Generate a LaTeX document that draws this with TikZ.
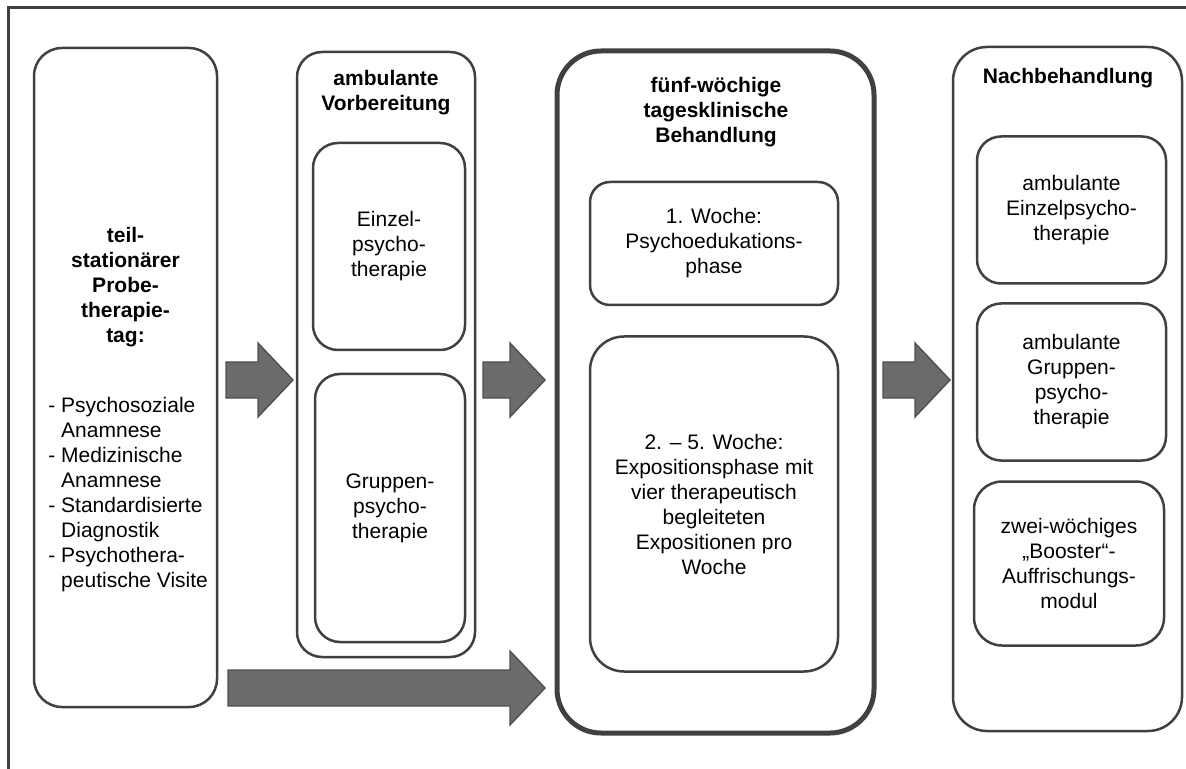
\documentclass[tikz,border=0pt]{standalone}
\usepackage{fontspec}
\setmainfont{Liberation Sans}
\usetikzlibrary{calc}
\definecolor{linegray}{HTML}{404040}
\definecolor{arrowfill}{HTML}{6B6B6B}
\definecolor{arrowedge}{HTML}{505050}
\newlength\px
\setlength\px{0.5pt}
\newcommand\boxfont{\fontsize{10.5pt}{12.5pt}\selectfont}
\newcommand\blockarrow[2]{%
  \filldraw[barr] ($(#1)+(0,-18)$) -- ($(#2)+(-35,-18)$) -- ($(#2)+(-35,-37)$) -- (#2)
    -- ($(#2)+(-35,37)$) -- ($(#2)+(-35,18)$) -- ($(#1)+(0,18)$) -- cycle;}

\begin{document}
\begin{tikzpicture}[
  x=0.5pt, y=-0.5pt,
  box/.style={draw=linegray, line width=1.25pt, rounded corners=13pt, inner sep=0pt, outer sep=0pt, align=center, font=\boxfont},
  bigbox/.style={box, line width=2.5pt, rounded corners=22pt},
  head/.style={font=\boxfont\bfseries, align=center, inner sep=0pt},
  barr/.style={fill=arrowfill, draw=arrowedge, line width=0.7pt}]
\useasboundingbox (0,0) rectangle (1186,769);
\draw[linegray, line width=1.5pt] (8,775) -- (8,7.5) -- (1190,7.5);

% Probetherapietag
\node[box, rounded corners=14pt, minimum width=183\px, minimum height=659\px] (probe) at (125.5,377.5) {};
\node[head] (probetitle) at (125.5,287) {teil-\\stationärer\\Probe-\\therapie-\\tag:};
\node[font=\boxfont, align=left, inner sep=0pt, anchor=west] (probelist) at (48,495)
  {- Psychosoziale\\\hphantom{-\ }Anamnese\\- Medizinische\\\hphantom{-\ }Anamnese\\- Standardisierte\\\hphantom{-\ }Diagnostik\\- Psychothera-\\\hphantom{-\ }peutische Visite};

% ambulante Vorbereitung
\node[box, rounded corners=12.5pt, minimum width=178\px, minimum height=605\px] (prep) at (386,354.5) {};
\node[head] (preptitle) at (386,92.5) {ambulante\\Vorbereitung};
\node[box, rounded corners=12.5pt, minimum width=152\px, minimum height=207\px] (einzel) at (389,246.5) {Einzel-\\psycho-\\therapie};
\node[box, rounded corners=12.5pt, minimum width=150\px, minimum height=268\px] (gruppe) at (390,508) {Gruppen-\\psycho-\\therapie};

% tagesklinische Behandlung
\node[bigbox, minimum width=317\px, minimum height=682\px] (tag) at (715.5,392) {};
\node[head] (tagtitle) at (716,112) {fünf-wöchige\\tagesklinische\\Behandlung};
\node[box, rounded corners=10pt, minimum width=248\px, minimum height=123\px] (woche1) at (714,243.5) {1. Woche:\\Psychoedukations-\\phase};
\node[box, rounded corners=17pt, minimum width=248\px, minimum height=335\px] (woche25) at (714,504) {2. – 5. Woche:\\Expositionsphase mit\\vier therapeutisch\\begleiteten\\Expositionen pro\\Woche};

% Nachbehandlung
\node[box, rounded corners=17pt, minimum width=229\px, minimum height=684\px] (nach) at (1067.5,389) {};
\node[head] (nachtitle) at (1068,78) {Nachbehandlung};
\node[box, rounded corners=12pt, minimum width=189\px, minimum height=147\px] (ein2) at (1071.5,210) {ambulante\\Einzelpsycho-\\therapie};
\node[box, rounded corners=12pt, minimum width=189\px, minimum height=157\px] (grp2) at (1071.5,382) {ambulante\\Gruppen-\\psycho-\\therapie};
\node[box, rounded corners=14pt, minimum width=190\px, minimum height=164\px] (booster) at (1069,563.5) {zwei-wöchiges\\„Booster“-\\Auffrischungs-\\modul};

% Pfeile
\coordinate (upper) at (0,380);
\coordinate (lower) at (0,688);
\coordinate (a1s) at ($(probe.east |- upper)+(9,0)$);
\coordinate (a1e) at ($(prep.west |- upper)+(-4,0)$);
\coordinate (a2s) at ($(prep.east |- upper)+(8,0)$);
\coordinate (a2e) at ($(tag.west |- upper)+(-12,0)$);
\coordinate (a3s) at ($(tag.east |- upper)+(9,0)$);
\coordinate (a3e) at ($(nach.west |- upper)+(-3,0)$);
\coordinate (a4s) at ($(probe.east |- lower)+(11,0)$);
\coordinate (a4e) at ($(tag.west |- lower)+(-12,0)$);
\blockarrow{a1s}{a1e}
\blockarrow{a2s}{a2e}
\blockarrow{a3s}{a3e}
\blockarrow{a4s}{a4e}
\end{tikzpicture}
\end{document}
